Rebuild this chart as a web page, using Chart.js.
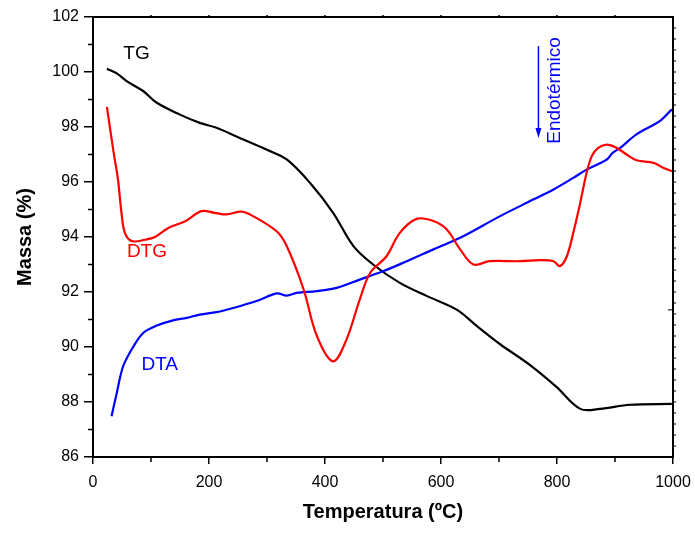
<!DOCTYPE html>
<html>
<head>
<meta charset="utf-8">
<script src="https://cdn.jsdelivr.net/npm/chart.js@4.4.1/dist/chart.umd.min.js"></script>
<style>
    html, body { margin: 0; padding: 0; background: #fff; }
    #wrap { width: 695px; height: 534px; }
</style>
</head>
<body>
<div id="wrap"><canvas id="chart" width="695" height="534"></canvas></div>
<script>
// --- DATA ---
const tgTemp = [24, 41, 58, 87, 110, 150, 184, 213, 253, 299, 334, 374, 414, 449, 483, 529, 576, 627, 662, 702, 753, 799, 840, 874, 926, 998];
const tgMass = [100.12, 99.95, 99.67, 99.3, 98.88, 98.45, 98.15, 97.97, 97.6, 97.18, 96.82, 95.97, 94.88, 93.67, 93.0, 92.33, 91.85, 91.36, 90.76, 90.1, 89.35, 88.55, 87.75, 87.75, 87.9, 87.93];

const dtgTemp = [24, 35, 43, 49, 55, 67, 90, 107, 130, 159, 187, 210, 230, 256, 276, 317, 334, 363, 386, 414, 437, 460, 478, 506, 529, 558, 587, 610, 633, 656, 684, 736, 771, 794, 805, 817, 828, 840, 851, 860, 871, 886, 903, 920, 937, 966, 983, 998];
const dtgVal = [98.73, 97.15, 96.1, 94.9, 94.15, 93.85, 93.9, 94.0, 94.33, 94.57, 94.94, 94.88, 94.82, 94.92, 94.76, 94.2, 93.67, 92.1, 90.4, 89.48, 90.27, 91.73, 92.7, 93.3, 94.15, 94.66, 94.58, 94.27, 93.55, 93.0, 93.12, 93.12, 93.16, 93.12, 92.94, 93.3, 94.15, 95.24, 96.33, 96.94, 97.24, 97.36, 97.24, 97.0, 96.79, 96.7, 96.52, 96.39];

const dtaTemp = [32, 41, 52, 70, 87, 110, 138, 162, 184, 213, 242, 282, 317, 334, 351, 386, 420, 460, 501, 541, 587, 633, 702, 759, 794, 828, 851, 886, 896, 909, 937, 977, 998];
const dtaVal = [87.48, 88.33, 89.3, 90.03, 90.52, 90.78, 90.97, 91.06, 91.18, 91.27, 91.42, 91.67, 91.95, 91.87, 91.97, 92.03, 92.15, 92.45, 92.76, 93.12, 93.55, 93.97, 94.76, 95.36, 95.73, 96.15, 96.45, 96.82, 97.06, 97.24, 97.73, 98.21, 98.64];

const xTicks = [0, 200, 400, 600, 800, 1000];
const yTicks = [86, 88, 90, 92, 94, 96, 98, 100, 102];

const FONT = '"Liberation Sans", Arial, sans-serif';

const toPoints = (xs, ys) => xs.map((x, i) => ({ x, y: ys[i] }));

// labels inside the plot, placed in data units
const curveLabels = [
    { text: 'TG', x: 75, y: 100.67, color: '#000000' },
    { text: 'DTG', x: 93, y: 93.47, color: '#ff0000' },
    { text: 'DTA', x: 115, y: 89.36, color: '#0000ff' }
];

const framePlugin = {
    id: 'frame',
    afterDraw(chart) {
        const { ctx, chartArea: a, scales: { x, y } } = chart;
        ctx.save();
        ctx.strokeStyle = '#000';

        // minor ticks, bottom + left
        ctx.lineWidth = 1.5;
        ctx.beginPath();
        for (let v = 100; v < 1000; v += 200) {
            const px = x.getPixelForValue(v);
            ctx.moveTo(px, a.bottom); ctx.lineTo(px, a.bottom + 5);
        }
        for (let v = 87; v < 102; v += 2) {
            const py = y.getPixelForValue(v);
            ctx.moveTo(a.left, py); ctx.lineTo(a.left - 5, py);
        }
        // tiny ticks on top
        for (let v = 100; v < 1000; v += 100) {
            const px = x.getPixelForValue(v);
            ctx.moveTo(px, a.top); ctx.lineTo(px, a.top - 2);
        }
        ctx.stroke();

        // right side ticks (second axis without labels)
        ctx.lineWidth = 1;
        ctx.beginPath();
        for (let v = 86.4; v < 102; v += 0.4) {
            const py = y.getPixelForValue(v);
            ctx.moveTo(a.right, py); ctx.lineTo(a.right + 3, py);
        }
        const pin = y.getPixelForValue(91.35);
        ctx.moveTo(a.right, pin); ctx.lineTo(a.right - 5, pin);
        ctx.stroke();

        // top + right border
        ctx.lineWidth = 2;
        ctx.beginPath();
        ctx.moveTo(a.left - 1, a.top);
        ctx.lineTo(a.right, a.top);
        ctx.lineTo(a.right, a.bottom + 1);
        ctx.stroke();

        // curve names
        ctx.font = '19px ' + FONT;
        ctx.textAlign = 'center';
        ctx.textBaseline = 'middle';
        curveLabels.forEach(l => {
            ctx.fillStyle = l.color;
            ctx.fillText(l.text, x.getPixelForValue(l.x), y.getPixelForValue(l.y));
        });

        // "Endotérmico" with arrow
        ctx.fillStyle = '#0000ff';
        ctx.strokeStyle = '#0000ff';
        ctx.save();
        ctx.translate(x.getPixelForValue(796), y.getPixelForValue(99.33));
        ctx.rotate(-Math.PI / 2);
        ctx.fillText('Endotérmico', 0, 0);
        ctx.restore();

        const ax = x.getPixelForValue(768);
        const ay0 = y.getPixelForValue(100.94);
        const ay1 = y.getPixelForValue(97.6);
        ctx.lineWidth = 1.5;
        ctx.beginPath();
        ctx.moveTo(ax, ay0); ctx.lineTo(ax, ay1 - 8);
        ctx.stroke();
        ctx.beginPath();
        ctx.moveTo(ax - 3, ay1 - 10);
        ctx.lineTo(ax + 3, ay1 - 10);
        ctx.lineTo(ax, ay1);
        ctx.closePath();
        ctx.fill();

        ctx.restore();
    }
};

const lineSet = (label, data, color) => ({
    label, data,
    borderColor: color,
    borderWidth: 2.2,
    pointRadius: 0,
    fill: false,
    tension: 0.35
});

new Chart(document.getElementById('chart'), {
    type: 'line',
    data: {
        datasets: [
            lineSet('DTG', toPoints(dtgTemp, dtgVal), '#ff0000'),
            lineSet('DTA', toPoints(dtaTemp, dtaVal), '#0000ff'),
            lineSet('TG', toPoints(tgTemp, tgMass), '#000000')
        ]
    },
    options: {
        responsive: false,
        animation: false,
        layout: { padding: { top: 17, right: 22, left: 0, bottom: 0 } },
        plugins: { legend: { display: false }, tooltip: { enabled: false } },
        scales: {
            x: {
                type: 'linear', min: 0, max: 1000,
                afterBuildTicks: s => { s.ticks = xTicks.map(v => ({ value: v })); },
                afterFit: s => { s.height = 77; s.paddingLeft = 0; s.paddingRight = 0; },
                ticks: { color: '#000', font: { family: FONT, size: 16 }, padding: 9, maxRotation: 0, callback: v => String(v) },
                grid: { drawOnChartArea: false, drawTicks: true, tickLength: 7, color: '#000', lineWidth: 1.5 },
                border: { color: '#000', width: 2 },
                title: { display: true, text: 'Temperatura (ºC)', color: '#000', font: { family: FONT, size: 20, weight: 'bold' }, padding: { top: 10, bottom: 10 } }
            },
            y: {
                min: 86, max: 102,
                afterBuildTicks: s => { s.ticks = yTicks.map(v => ({ value: v })); },
                afterFit: s => { s.width = 93; s.paddingTop = 0; s.paddingBottom = 0; },
                ticks: { color: '#000', font: { family: FONT, size: 16 }, padding: 5, callback: v => String(v) },
                grid: { drawOnChartArea: false, drawTicks: true, tickLength: 9, color: '#000', lineWidth: 1.5 },
                border: { color: '#000', width: 2 },
                title: { display: true, text: 'Massa (%)', color: '#000', font: { family: FONT, size: 20, weight: 'bold' }, padding: { top: 13, bottom: 0 } }
            }
        }
    },
    plugins: [framePlugin]
});
</script>
</body>
</html>
